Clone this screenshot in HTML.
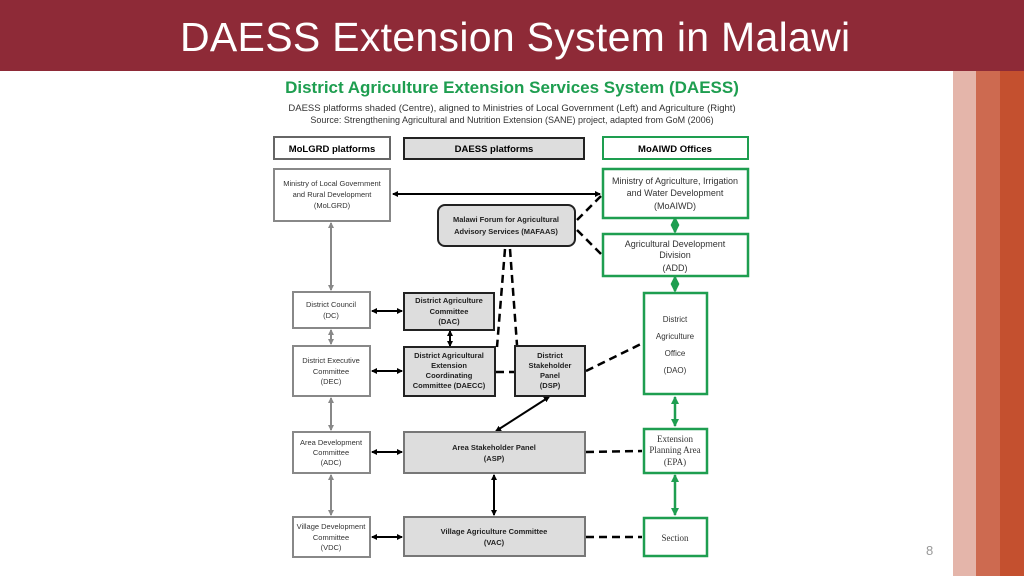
<!DOCTYPE html>
<html><head><meta charset="utf-8"><style>
html,body{margin:0;padding:0;}
body{width:1024px;height:576px;position:relative;overflow:hidden;background:#fff;font-family:"Liberation Sans",sans-serif;}
</style></head><body>
<div style="position:absolute;left:0;top:0;width:1024px;height:71px;background:#8e2a37;"></div>
<div style="position:absolute;left:180px;top:11px;color:#fff;font-size:41px;line-height:52px;white-space:nowrap;letter-spacing:0.3px;">DAESS Extension System in Malawi</div>
<div style="position:absolute;left:953px;top:71px;width:23px;height:505px;background:#e4b5aa;"></div>
<div style="position:absolute;left:976px;top:71px;width:24px;height:505px;background:#cd6a50;"></div>
<div style="position:absolute;left:1000px;top:71px;width:24px;height:505px;background:#c4502f;"></div>
<div style="position:absolute;left:926px;top:543px;color:#999;font-size:13px;">8</div>
<svg width="1024" height="576" style="position:absolute;left:0;top:0" font-family="Liberation Sans, sans-serif">
<defs>
<marker id="a" markerWidth="6" markerHeight="6" refX="5" refY="3" orient="auto-start-reverse" markerUnits="userSpaceOnUse"><path d="M0,0 L6,3 L0,6z" fill="#000"/></marker>
<marker id="g" markerWidth="6" markerHeight="6" refX="5" refY="3" orient="auto-start-reverse" markerUnits="userSpaceOnUse"><path d="M0,0 L6,3 L0,6z" fill="#888"/></marker>
<marker id="gr" markerWidth="8" markerHeight="8" refX="7" refY="4" orient="auto-start-reverse" markerUnits="userSpaceOnUse"><path d="M0,0 L8,4 L0,8z" fill="#1e9e50"/></marker>
</defs>
<text x="512" y="93" text-anchor="middle" font-size="17" font-weight="bold" fill="#1e9e50">District Agriculture Extension Services System (DAESS)</text>
<text x="512" y="111" text-anchor="middle" font-size="9.5" fill="#333">DAESS platforms shaded (Centre), aligned to Ministries of Local Government (Left) and Agriculture (Right)</text>
<text x="512" y="123" text-anchor="middle" font-size="9" fill="#333">Source: Strengthening Agricultural and Nutrition Extension (SANE) project, adapted from GoM (2006)</text>
<g font-size="9.5" font-weight="bold" text-anchor="middle">
<rect x="274" y="137" width="116" height="22" fill="#fff" stroke="#666" stroke-width="2"/><text x="332" y="152">MoLGRD platforms</text>
<rect x="404" y="138" width="180" height="21" fill="#ddd" stroke="#222" stroke-width="2"/><text x="494" y="152">DAESS platforms</text>
<rect x="603" y="137" width="145" height="22" fill="#fff" stroke="#1e9e50" stroke-width="2"/><text x="675" y="152">MoAIWD Offices</text>
</g>
<g stroke="#000" stroke-width="2" fill="none">
<line x1="393" y1="194" x2="600" y2="194" marker-start="url(#a)" marker-end="url(#a)"/>
<line x1="372" y1="311" x2="402" y2="311" marker-start="url(#a)" marker-end="url(#a)"/>
<line x1="372" y1="371" x2="402" y2="371" marker-start="url(#a)" marker-end="url(#a)"/>
<line x1="372" y1="452" x2="402" y2="452" marker-start="url(#a)" marker-end="url(#a)"/>
<line x1="372" y1="537" x2="402" y2="537" marker-start="url(#a)" marker-end="url(#a)"/>
<line x1="450" y1="331" x2="450" y2="346" marker-start="url(#a)" marker-end="url(#a)"/>
<line x1="549" y1="397" x2="496" y2="431" marker-start="url(#a)" marker-end="url(#a)"/>
<line x1="494" y1="475" x2="494" y2="515" marker-start="url(#a)" marker-end="url(#a)"/>
</g>
<g stroke="#888" stroke-width="2" fill="none">
<line x1="331" y1="223" x2="331" y2="290" marker-start="url(#g)" marker-end="url(#g)"/>
<line x1="331" y1="330" x2="331" y2="344" marker-start="url(#g)" marker-end="url(#g)"/>
<line x1="331" y1="398" x2="331" y2="430" marker-start="url(#g)" marker-end="url(#g)"/>
<line x1="331" y1="475" x2="331" y2="515" marker-start="url(#g)" marker-end="url(#g)"/>
</g>
<g stroke="#000" stroke-width="2.5" fill="none" stroke-dasharray="8,5">
<line x1="577" y1="220" x2="601" y2="196"/>
<line x1="577" y1="230" x2="601" y2="254"/>
<line x1="505" y1="249" x2="497" y2="347"/>
<line x1="510" y1="249" x2="517" y2="345"/>
<line x1="496" y1="372" x2="514" y2="372"/>
<line x1="586" y1="371" x2="643" y2="343"/>
<line x1="586" y1="452" x2="642" y2="451"/>
<line x1="586" y1="537" x2="642" y2="537"/>
</g>
<g stroke="#1e9e50" stroke-width="2.5" fill="#1e9e50">
<line x1="675" y1="219" x2="675" y2="232"/><path d="M675,219 l3,6 l-3,6 l-3,-6z"/>
<line x1="675" y1="277" x2="675" y2="291"/><path d="M675,278 l3,6 l-3,6 l-3,-6z"/>
<line x1="675" y1="397" x2="675" y2="426" marker-start="url(#gr)" marker-end="url(#gr)"/>
<line x1="675" y1="475" x2="675" y2="515" marker-start="url(#gr)" marker-end="url(#gr)"/>
</g>
<g fill="#fff" stroke="#888" stroke-width="2">
<rect x="274" y="169" width="116" height="52"/>
<rect x="293" y="292" width="77" height="36"/>
<rect x="293" y="346" width="77" height="50"/>
<rect x="293" y="432" width="77" height="41"/>
<rect x="293" y="517" width="77" height="40"/>
</g>
<g font-size="7.5" fill="#333" text-anchor="middle">
<text x="332" y="186">Ministry of Local Government</text><text x="332" y="197">and Rural Development</text><text x="332" y="208">(MoLGRD)</text>
<text x="331" y="307">District Council</text><text x="331" y="318">(DC)</text>
<text x="331" y="363">District Executive</text><text x="331" y="374">Committee</text><text x="331" y="384">(DEC)</text>
<text x="331" y="445">Area Development</text><text x="331" y="455">Committee</text><text x="331" y="465">(ADC)</text>
<text x="331" y="529">Village Development</text><text x="331" y="540">Committee</text><text x="331" y="550">(VDC)</text>
</g>
<g fill="#ddd" stroke="#222" stroke-width="2">
<rect x="438" y="205" width="137" height="41" rx="7"/>
<rect x="404" y="293" width="90" height="37"/>
<rect x="404" y="347" width="91" height="49"/>
<rect x="515" y="346" width="70" height="50"/>
</g>
<g fill="#ddd" stroke="#777" stroke-width="2">
<rect x="404" y="432" width="181" height="41"/>
<rect x="404" y="517" width="181" height="39"/>
</g>
<g font-size="7.5" font-weight="bold" fill="#222" text-anchor="middle">
<text x="506" y="222">Malawi Forum for Agricultural</text><text x="506" y="234">Advisory Services (MAFAAS)</text>
<text x="449" y="303">District Agriculture</text><text x="449" y="314">Committee</text><text x="449" y="324">(DAC)</text>
<text x="449" y="358">District Agricultural</text><text x="449" y="368">Extension</text><text x="449" y="378">Coordinating</text><text x="449" y="388">Committee (DAECC)</text>
<text x="550" y="358">District</text><text x="550" y="368">Stakeholder</text><text x="550" y="378">Panel</text><text x="550" y="388">(DSP)</text>
<text x="494" y="450">Area Stakeholder Panel</text><text x="494" y="461">(ASP)</text>
<text x="494" y="534">Village Agriculture Committee</text><text x="494" y="545">(VAC)</text>
</g>
<g fill="#fff" stroke="#1e9e50" stroke-width="2.5">
<rect x="603" y="169" width="145" height="49"/>
<rect x="603" y="234" width="145" height="42"/>
<rect x="644" y="293" width="63" height="101"/>
<rect x="644" y="429" width="63" height="44"/>
<rect x="644" y="518" width="63" height="38"/>
</g>
<g font-size="9" fill="#333" text-anchor="middle">
<text x="675" y="184">Ministry of Agriculture, Irrigation</text><text x="675" y="196">and Water Development</text><text x="675" y="209">(MoAIWD)</text>
<text x="675" y="247">Agricultural Development</text><text x="675" y="258">Division</text><text x="675" y="271">(ADD)</text>
<text x="675" y="322" font-size="8">District</text><text x="675" y="339" font-size="8">Agriculture</text><text x="675" y="356" font-size="8">Office</text><text x="675" y="373" font-size="8">(DAO)</text>
</g>
<g font-size="9" fill="#333" text-anchor="middle" font-family="Liberation Serif, serif">
<text x="675" y="442">Extension</text><text x="675" y="453">Planning Area</text><text x="675" y="465">(EPA)</text>
<text x="675" y="541">Section</text>
</g>
</svg>
</body></html>
